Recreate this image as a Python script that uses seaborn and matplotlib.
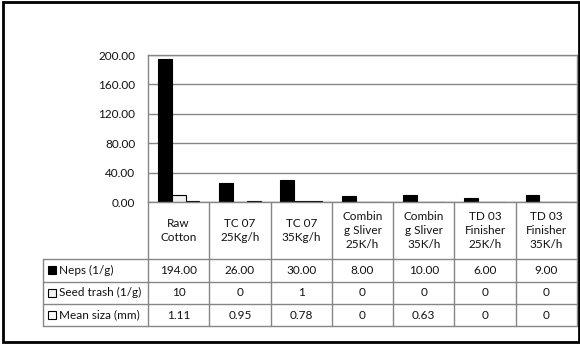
import pandas as pd
import matplotlib
matplotlib.use('Agg')
import matplotlib.pyplot as plt
import matplotlib.patches as mpatches
import matplotlib.transforms as mtrans
import seaborn as sns

# Data
categories = ['Raw\nCotton', 'TC 07\n25Kg/h', 'TC 07\n35Kg/h', 'Combin\ng Sliver\n25K/h',
              'Combin\ng Sliver\n35K/h', 'TD 03\nFinisher\n25K/h', 'TD 03\nFinisher\n35K/h']
series = ['Neps (1/g)', 'Seed trash (1/g)', 'Mean siza (mm)']
neps = [194, 26, 30, 8, 10, 6, 9]
seed_trash = [10, 0, 1, 0, 0, 0, 0]
mean_size = [1.11, 0.95, 0.78, 0, 0.63, 0, 0]
neps_txt = ['194.00', '26.00', '30.00', '8.00', '10.00', '6.00', '9.00']
seed_txt = ['10', '0', '1', '0', '0', '0', '0']
mean_txt = ['1.11', '0.95', '0.78', '0', '0.63', '0', '0']
y_ticks = [0, 40, 80, 120, 160, 200]

bar_colors = ['black', '#f2f2f2', 'white']

df = pd.DataFrame({
    'category': categories * 3,
    'series': [series[0]] * 7 + [series[1]] * 7 + [series[2]] * 7,
    'value': neps + seed_trash + mean_size,
})

sns.set_style('white')
plt.rcParams['font.family'] = ['Lato', 'DejaVu Sans']
fs = 8.5

fig = plt.figure(figsize=(5.8, 3.44), dpi=100)
ax = fig.add_axes([148 / 580, 1 - 202 / 344, 429 / 580, 147 / 344])

sns.barplot(data=df, x='category', y='value', hue='series', hue_order=series,
            palette=bar_colors, edgecolor='black', linewidth=0.8,
            width=0.68, gap=0, legend=False, ax=ax)

n = len(categories)
ax.set_xlim(-0.5, n - 0.5)
ax.set_ylim(0, 200)
ax.set_yticks(y_ticks)
ax.set_yticklabels([f'{t:.2f}' for t in y_ticks])
ax.set_xticks([])
ax.set_xlabel('')
ax.set_ylabel('')
ax.tick_params(axis='y', length=0, pad=9, labelsize=fs, colors='#111111')
ax.yaxis.grid(True, color='#868686', lw=1)
ax.set_axisbelow(True)
for s in ax.spines.values():
    s.set_color('#868686')
    s.set_linewidth(1)

# Data table under the plot
grid_c = '#868686'
row_edges = [0, -57 / 147, -79.7 / 147, -102 / 147, -124 / 147]
xt = ax.get_xaxis_transform()
left_fig = 43 / 580
ht = mtrans.blended_transform_factory(fig.transFigure, ax.transAxes)

for k in range(n + 1):
    ax.plot([k - 0.5, k - 0.5], [0, row_edges[-1]], transform=xt,
            color=grid_c, lw=1, clip_on=False)
for r in row_edges[1:]:
    ax.plot([left_fig, 148 / 580], [r, r], transform=ht, color=grid_c, lw=1, clip_on=False)
    ax.plot([-0.5, n - 0.5], [r, r], transform=xt, color=grid_c, lw=1, clip_on=False)
ax.plot([left_fig, left_fig], [row_edges[1], row_edges[-1]], transform=ht,
        color=grid_c, lw=1, clip_on=False)

# category labels
for k, lab in enumerate(categories):
    ax.text(k, (row_edges[0] + row_edges[1]) / 2, lab, transform=xt,
            ha='center', va='center', fontsize=fs, linespacing=1.3,
            color='#111111')

rows = [neps_txt, seed_txt, mean_txt]
for i, vals in enumerate(rows):
    yc = (row_edges[i + 1] + row_edges[i + 2]) / 2
    for k, v in enumerate(vals):
        ax.text(k, yc, v, transform=xt, ha='center', va='center',
                fontsize=fs, color='#111111')
    # legend key + row header
    ax.add_patch(mpatches.Rectangle((47.5 / 580, yc - 0.026), 8.5 / 580, 0.055,
                                    transform=ht, facecolor=bar_colors[i],
                                    edgecolor='black', lw=0.8, clip_on=False))
    ax.text(59 / 580, yc, series[i], transform=ht, ha='left', va='center',
            fontsize=fs, color='#111111')

# outer chart border
fig.patches.append(mpatches.Rectangle((3 / 580, 2 / 344), 575.5 / 580, 340 / 344,
                                      transform=fig.transFigure, fill=False,
                                      edgecolor='black', lw=2))

plt.savefig('out.png', dpi=100)
plt.close('all')
